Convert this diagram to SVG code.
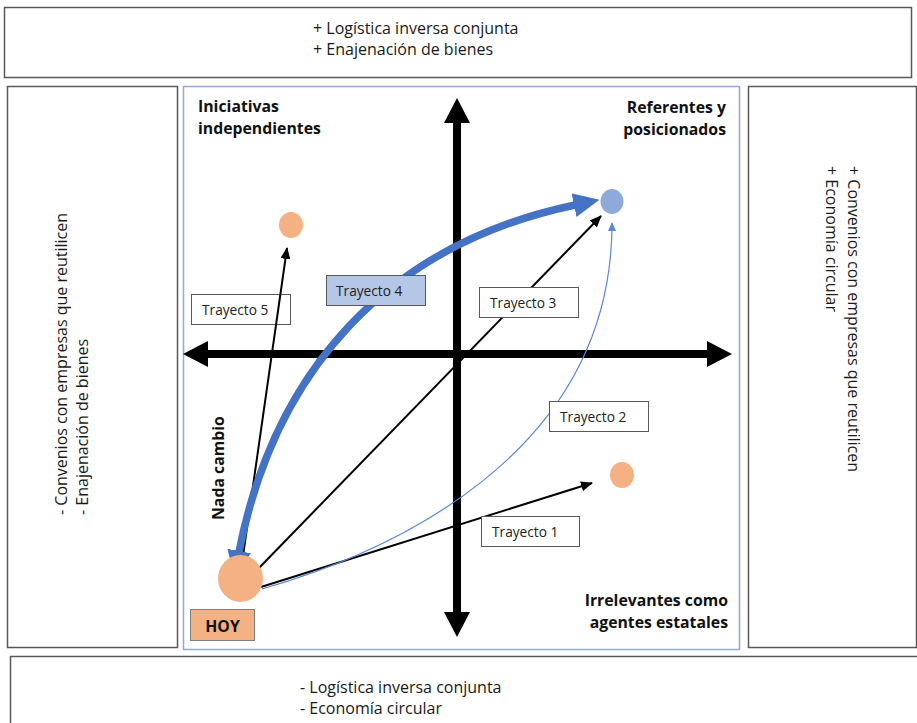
<svg xmlns="http://www.w3.org/2000/svg" width="917" height="723" viewBox="0 0 917 723">
  <style>
    .frame{fill:#fff;stroke:#595959;stroke-width:1.5}
    .quad{fill:#fff;stroke:#8faadc;stroke-width:1.5}
    .txt{font-family:"Open Sans","Noto Sans",sans-serif;font-size:16px;fill:#1a1a1a}
    .bold{font-family:"Open Sans","Noto Sans",sans-serif;font-weight:bold;font-size:15.8px;fill:#111}
    .tag{fill:#fff;stroke:#595959;stroke-width:1}
    .tag4{fill:#b4c7e7;stroke:#595959;stroke-width:1}
    .tagtxt{font-family:"Open Sans","Noto Sans",sans-serif;font-size:13.7px;fill:#222}
    .axis{stroke:#000;stroke-width:8;fill:none}
    .thin{stroke:#000;stroke-width:2;fill:none}
    .orange{fill:#f4b183}
  </style>
  <defs>
    <marker id="axisHead" markerUnits="userSpaceOnUse" markerWidth="26" markerHeight="26" refX="0" refY="13" orient="auto-start-reverse">
      <path d="M0,0 L25,13 L0,26 z" fill="#000"/>
    </marker>
    <marker id="blackHead" markerUnits="userSpaceOnUse" markerWidth="12" markerHeight="10" refX="11" refY="5" orient="auto">
      <path d="M0,0 L12,5 L0,10 z" fill="#000"/>
    </marker>
    <marker id="blueThinHead" markerUnits="userSpaceOnUse" markerWidth="9" markerHeight="8" refX="8" refY="4" orient="auto">
      <path d="M0,0 L9,4 L0,8 z" fill="#5b87d6"/>
    </marker>
    <marker id="blueThickHead" markerUnits="userSpaceOnUse" markerWidth="26" markerHeight="24" refX="1" refY="12" orient="auto-start-reverse">
      <path d="M0,0 L26,12 L0,24 z" fill="#4472c4"/>
    </marker>
  </defs>

  <rect width="917" height="723" fill="#fff"/>

  <!-- outer frames -->
  <g id="top-box">
    <rect class="frame" x="4.5" y="7.5" width="907" height="70"/>
    <text class="txt" x="313" y="34">+ Logística inversa conjunta</text>
    <text class="txt" x="313" y="55">+ Enajenación de bienes</text>
  </g>
  <g id="left-box">
    <rect class="frame" x="7.5" y="86.5" width="170" height="561"/>
    <text class="txt" transform="translate(67,515) rotate(-90)">
      <tspan x="0" y="0">- Convenios con empresas que reutilicen</tspan>
      <tspan x="0" y="21">- Enajenación de bienes</tspan>
    </text>
  </g>
  <g id="right-box">
    <rect class="frame" x="748.5" y="86.5" width="168" height="561"/>
    <text class="txt" transform="translate(848,166) rotate(90)" font-size="16.7">
      <tspan x="0" y="0">+ Convenios con empresas que reutilicen</tspan>
      <tspan x="0" y="22">+ Economía circular</tspan>
    </text>
  </g>
  <g id="bottom-box">
    <rect class="frame" x="10.5" y="656.5" width="910" height="80"/>
    <text class="txt" x="300" y="693">- Logística inversa conjunta</text>
    <text class="txt" x="300" y="714">- Economía circular</text>
  </g>

  <!-- quadrant area -->
  <g id="quadrant">
    <rect class="quad" x="183.5" y="86.5" width="556" height="563"/>
    <text class="bold" x="198" y="112">Iniciativas</text>
    <text class="bold" x="198" y="134">independientes</text>
    <text class="bold" x="726" y="113" text-anchor="end">Referentes y</text>
    <text class="bold" x="726" y="135" text-anchor="end">posicionados</text>
    <text class="bold" x="728" y="606" text-anchor="end">Irrelevantes como</text>
    <text class="bold" x="728" y="628" text-anchor="end">agentes estatales</text>
    <text class="bold" transform="translate(224,520) rotate(-90)" font-size="16">Nada cambio</text>
  </g>

  <!-- axes -->
  <g id="axes">
    <line class="axis" x1="457" y1="123" x2="457" y2="612" marker-start="url(#axisHead)" marker-end="url(#axisHead)"/>
    <line class="axis" x1="208" y1="354" x2="707" y2="354" marker-start="url(#axisHead)" marker-end="url(#axisHead)"/>
  </g>

  <!-- label that sits beneath its connector -->
  <g id="tag-5">
    <rect class="tag" x="191.5" y="294.5" width="99" height="30"/>
    <text class="tagtxt" x="202" y="314.5">Trayecto 5</text>
  </g>

  <!-- connectors -->
  <g id="connectors">
    <line class="thin" x1="243" y1="556" x2="287" y2="248" marker-end="url(#blackHead)"/>
    <line class="thin" x1="259" y1="568" x2="601" y2="216" marker-end="url(#blackHead)"/>
    <line class="thin" x1="261" y1="587" x2="592" y2="483" stroke-width="2.4" marker-end="url(#blackHead)"/>
    <path d="M262,589 C380,555 612,460 612,223" fill="none" stroke="#5b87d6" stroke-width="1.2" marker-end="url(#blueThinHead)"/>
    <path d="M239,552 C274,373 385,245 575,205" fill="none" stroke="#4472c4" stroke-width="7.5" marker-start="url(#blueThickHead)" marker-end="url(#blueThickHead)"/>
  </g>

  <!-- positions -->
  <g id="hoy">
    <ellipse class="orange" cx="240.5" cy="578.5" rx="22.5" ry="23.5"/>
  </g>
  <g id="hoy-label">
    <rect class="orange" x="190.5" y="609.5" width="64" height="31" stroke="#7f7f7f" stroke-width="1"/>
    <text class="bold" x="222.5" y="632" text-anchor="middle" font-size="16.5">HOY</text>
  </g>
  <g id="point-independientes">
    <ellipse class="orange" cx="291" cy="225" rx="12" ry="13"/>
  </g>
  <g id="point-referentes">
    <ellipse cx="612" cy="201.5" rx="11.5" ry="12.5" fill="#8eaadb"/>
  </g>
  <g id="point-irrelevantes">
    <ellipse class="orange" cx="622" cy="475" rx="12" ry="13"/>
  </g>

  <!-- labels above their connectors -->
  <g id="tag-4">
    <rect class="tag4" x="326.5" y="275.5" width="99" height="30"/>
    <text class="tagtxt" x="336" y="295.5">Trayecto 4</text>
  </g>
  <g id="tag-3">
    <rect class="tag" x="479.5" y="287.5" width="99" height="30"/>
    <text class="tagtxt" x="490" y="307.5">Trayecto 3</text>
  </g>
  <g id="tag-2">
    <rect class="tag" x="549.5" y="401.5" width="99" height="30"/>
    <text class="tagtxt" x="560" y="421.5">Trayecto 2</text>
  </g>
  <g id="tag-1">
    <rect class="tag" x="481.5" y="516.5" width="98" height="30"/>
    <text class="tagtxt" x="492" y="536.5">Trayecto 1</text>
  </g>
</svg>
